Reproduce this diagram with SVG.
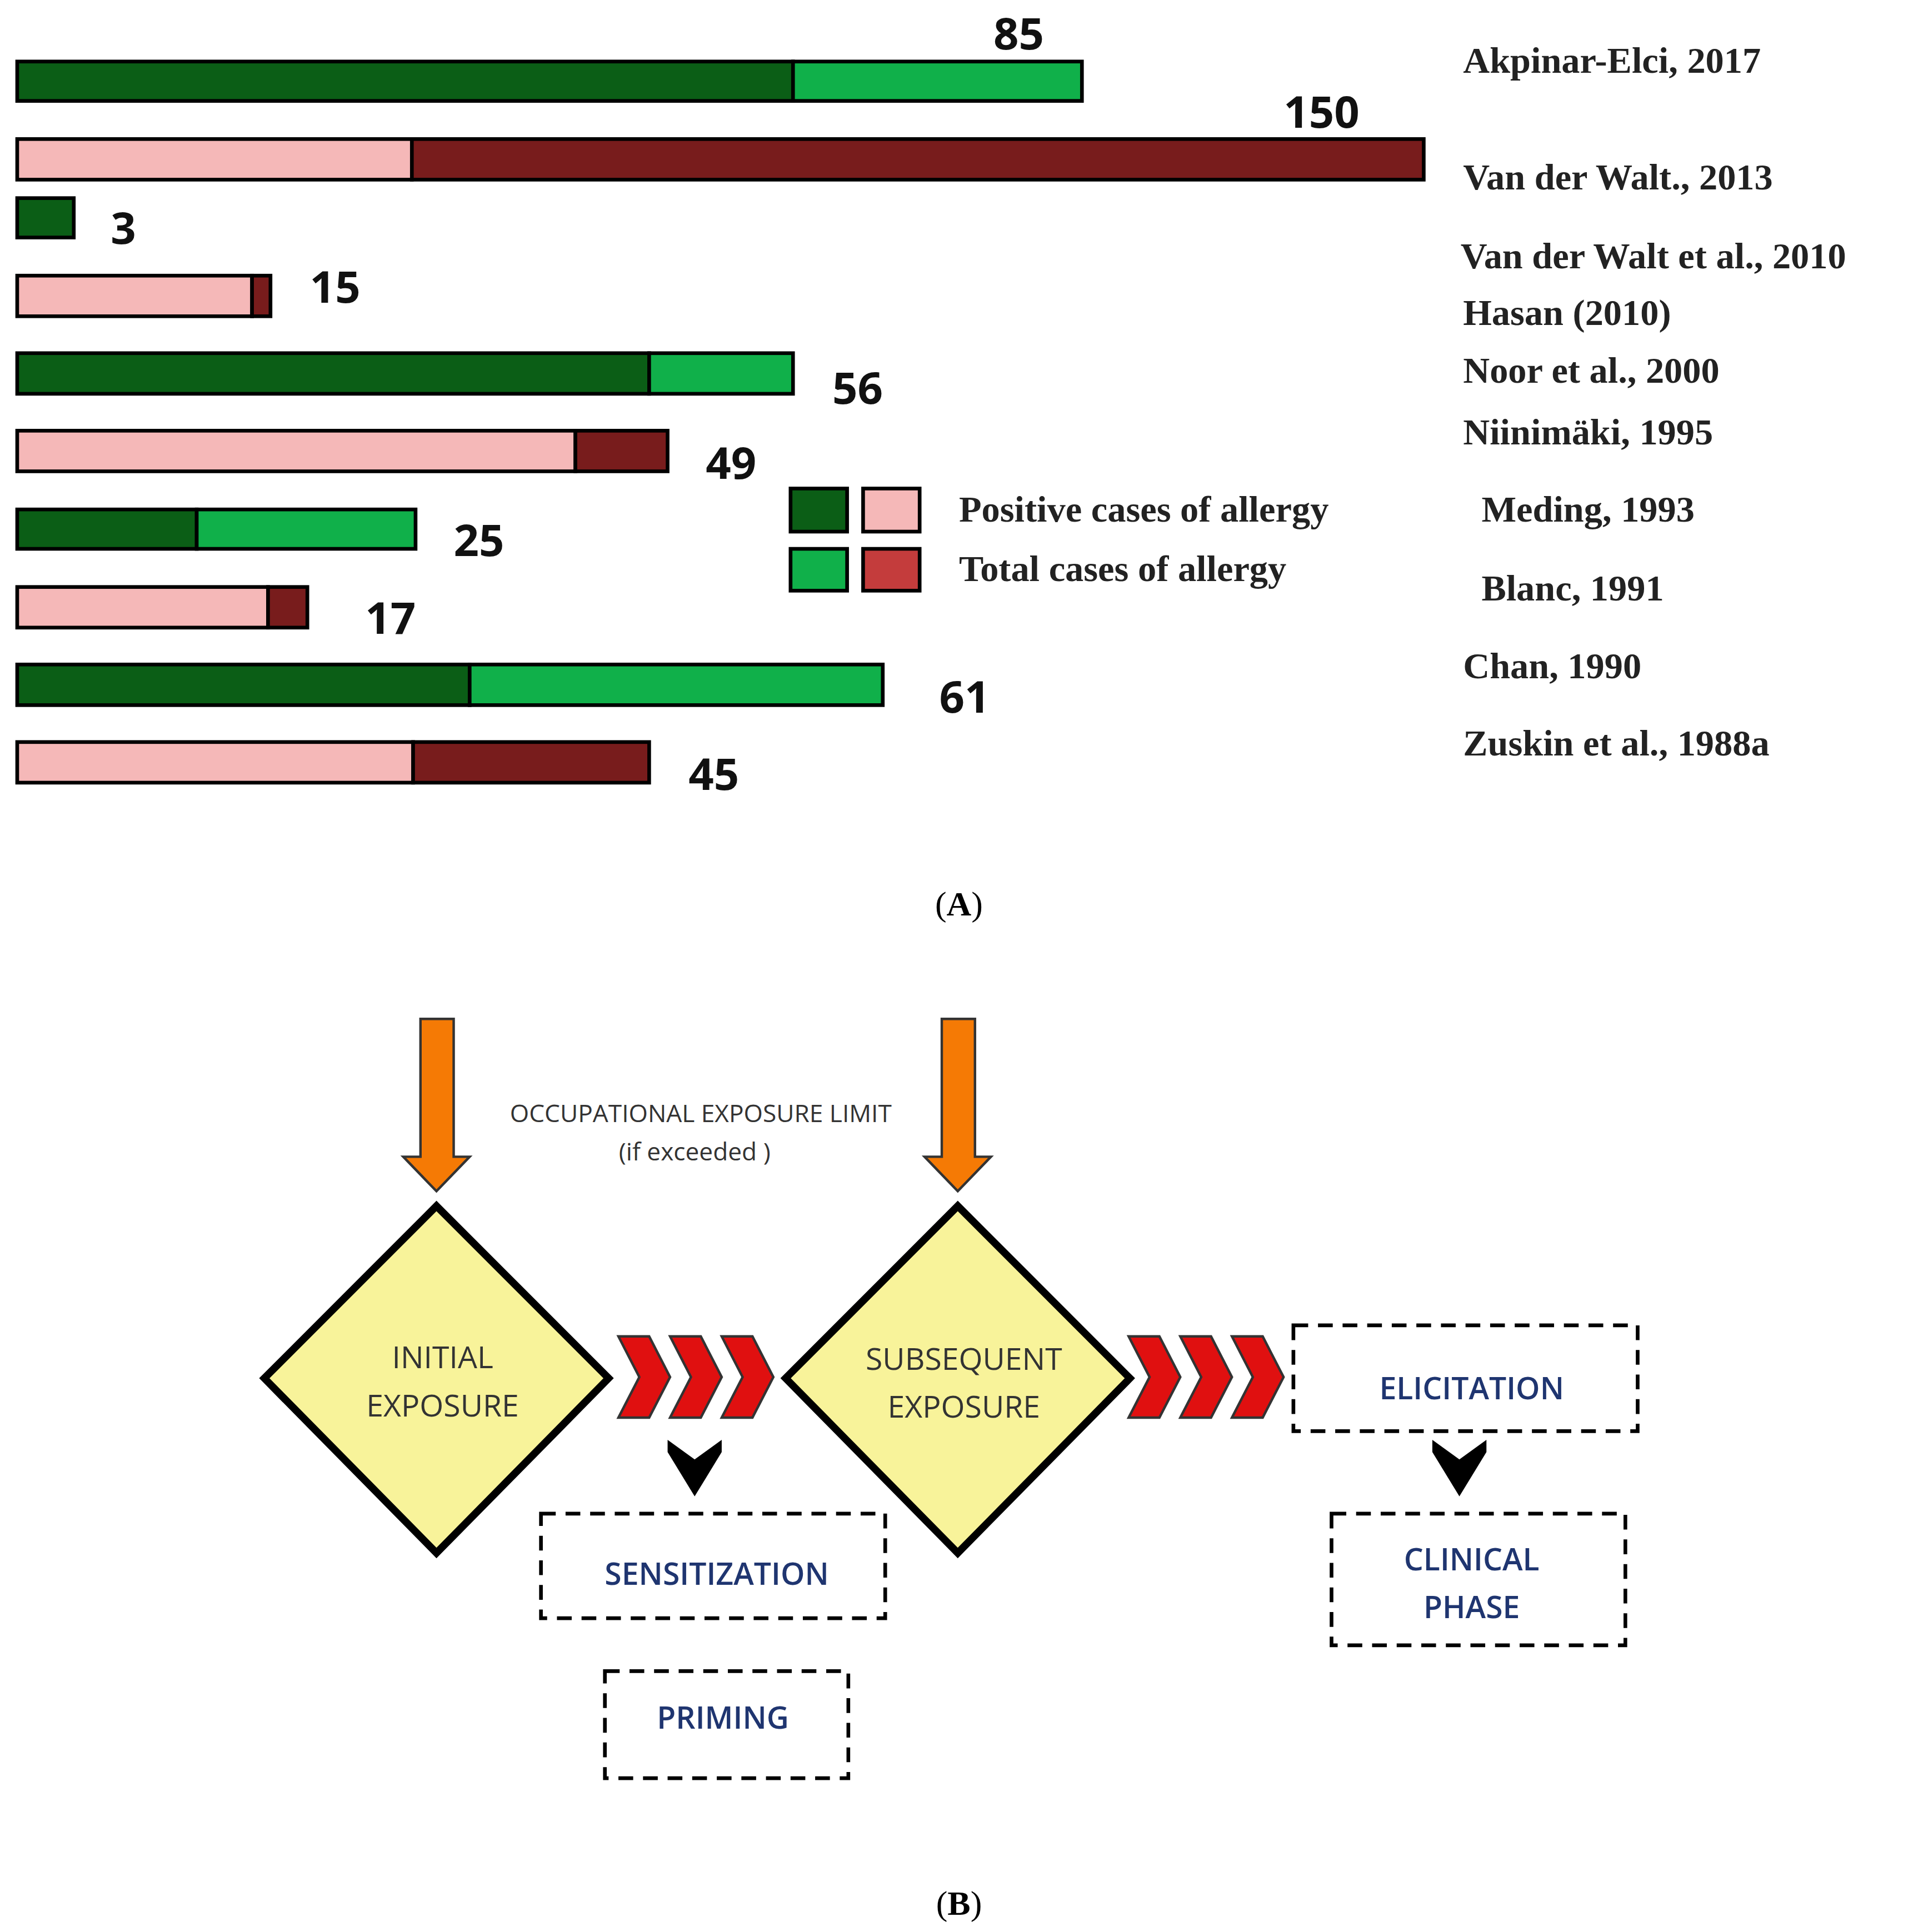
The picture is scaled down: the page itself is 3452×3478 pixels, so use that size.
<svg xmlns="http://www.w3.org/2000/svg" width="3452" height="3478" viewBox="0 0 3452 3478">
<style>
.bar{stroke:#000;stroke-width:3}
.dg{fill:#0b5e16}.lg{fill:#10b04a}.pk{fill:#f5b8b8}.dr{fill:#781c1c}.rl{fill:#c43c3c}
.num{font-family:"Open Sans",sans-serif;font-weight:bold;font-size:36px;fill:#111}
.ref{font-family:"Liberation Serif",serif;font-weight:bold;font-size:30px;fill:#222}
.cap{font-family:"Liberation Serif",serif;font-size:28px;fill:#000}
.dia{fill:#f8f39a;stroke:#000;stroke-width:6;stroke-linejoin:miter}
.dt{font-family:"Open Sans",sans-serif;font-size:25px;fill:#333;text-anchor:middle}
.bt{font-family:"Open Sans",sans-serif;font-size:25px;font-weight:600;fill:#1f3570;text-anchor:middle}
.box{fill:none;stroke:#000;stroke-width:3;stroke-dasharray:12 8}
.chev{fill:#e01010;stroke:#333;stroke-width:2}
.org{fill:#f57a05;stroke:#333;stroke-width:2}
</style>
<g transform="scale(2.2128,2.2153)">
<g id="chart">
<rect class="bar dg" x="14" y="50" width="631" height="32"/><rect class="bar lg" x="645" y="50" width="235" height="32"/>
<text class="num" x="808" y="40">85</text>
<rect class="bar pk" x="14" y="113" width="321" height="33"/><rect class="bar dr" x="335" y="113" width="823" height="33"/>
<text class="num" x="1044" y="104">150</text>
<rect class="bar dg" x="14" y="161" width="46" height="32"/>
<text class="num" x="90" y="198">3</text>
<rect class="bar pk" x="14" y="224" width="191" height="33"/><rect class="bar dr" x="205" y="224" width="15" height="33"/>
<text class="num" x="252" y="246">15</text>
<rect class="bar dg" x="14" y="287" width="514" height="33"/><rect class="bar lg" x="528" y="287" width="117" height="33"/>
<text class="num" x="677" y="328">56</text>
<rect class="bar pk" x="14" y="350" width="454" height="33"/><rect class="bar dr" x="468" y="350" width="75" height="33"/>
<text class="num" x="574" y="389">49</text>
<rect class="bar dg" x="14" y="414" width="146" height="32"/><rect class="bar lg" x="160" y="414" width="178" height="32"/>
<text class="num" x="369" y="452">25</text>
<rect class="bar pk" x="14" y="477" width="204" height="33"/><rect class="bar dr" x="218" y="477" width="32" height="33"/>
<text class="num" x="297" y="515">17</text>
<rect class="bar dg" x="14" y="540" width="368" height="33"/><rect class="bar lg" x="382" y="540" width="336" height="33"/>
<text class="num" x="764" y="579">61</text>
<rect class="bar pk" x="14" y="603" width="322" height="33"/><rect class="bar dr" x="336" y="603" width="192" height="33"/>
<text class="num" x="560" y="642">45</text>
</g>
<g id="legend">
<rect class="bar dg" x="643" y="397" width="46" height="35"/><rect class="bar pk" x="702" y="397" width="46" height="35"/>
<rect class="bar lg" x="643" y="446" width="46" height="34"/><rect class="bar rl" x="702" y="446" width="46" height="34"/>
<text class="ref" x="780" y="424">Positive cases of allergy</text>
<text class="ref" x="780" y="472">Total cases of allergy</text>
</g>
<g id="refs">
<text class="ref" x="1190" y="59">Akpinar-Elci, 2017</text>
<text class="ref" x="1190" y="154">Van der Walt., 2013</text>
<text class="ref" x="1188" y="218">Van der Walt et al., 2010</text>
<text class="ref" x="1190" y="264">Hasan (2010)</text>
<text class="ref" x="1190" y="311">Noor et al., 2000</text>
<text class="ref" x="1190" y="361">Niinimäki, 1995</text>
<text class="ref" x="1205" y="424">Meding, 1993</text>
<text class="ref" x="1205" y="488">Blanc, 1991</text>
<text class="ref" x="1190" y="551">Chan, 1990</text>
<text class="ref" x="1190" y="614">Zuskin et al., 1988a</text>
</g>
<text class="cap" x="780" y="744" text-anchor="middle">(<tspan font-weight="bold">A</tspan>)</text>
<text class="cap" x="780" y="1556" text-anchor="middle">(<tspan font-weight="bold">B</tspan>)</text>

<g id="connectors">
<polygon class="org" points="342,828 369,828 369,940 382,940 355,968 328,940 342,940"/>
<polygon class="org" points="766,828 793,828 793,940 806,940 779,968 752,940 766,940"/>
<g id="chev1">
<polygon class="chev" points="503,1086 528,1086 545,1119 528,1152 503,1152 520,1119"/>
<polygon class="chev" points="545,1086 570,1086 587,1119 570,1152 545,1152 562,1119"/>
<polygon class="chev" points="587,1086 612,1086 629,1119 612,1152 587,1152 604,1119"/>
</g>
<g id="chev2">
<polygon class="chev" points="918,1086 943,1086 960,1119 943,1152 918,1152 935,1119"/>
<polygon class="chev" points="960,1086 985,1086 1002,1119 985,1152 960,1152 977,1119"/>
<polygon class="chev" points="1002,1086 1027,1086 1044,1119 1027,1152 1002,1152 1019,1119"/>
</g>
<polygon fill="#000" points="543,1170 565,1186 587,1170 587,1180 565,1216 543,1180"/>
<polygon fill="#000" points="1165,1170 1187,1186 1209,1170 1209,1180 1187,1216 1165,1180"/>
</g>
<text class="dt" x="570" y="912" font-size="20" style="font-size:20px">OCCUPATIONAL EXPOSURE LIMIT</text>
<text class="dt" x="565" y="943" style="font-size:20px">(if exceeded )</text>
<g id="initial">
<polygon class="dia" points="355,980 495,1120 355,1262 215,1120"/>
<text class="dt" x="360" y="1112">INITIAL</text><text class="dt" x="360" y="1151">EXPOSURE</text>
</g>
<g id="subsequent">
<polygon class="dia" points="779,980 919,1120 779,1262 639,1120"/>
<text class="dt" x="784" y="1113">SUBSEQUENT</text><text class="dt" x="784" y="1152">EXPOSURE</text>
</g>
<g id="sensitization"><rect class="box" x="440" y="1230" width="280" height="85"/><text class="bt" x="583" y="1288">SENSITIZATION</text></g>
<g id="priming"><rect class="box" x="492" y="1358" width="198" height="87"/><text class="bt" x="588" y="1405">PRIMING</text></g>
<g id="elicitation"><rect class="box" x="1052" y="1077" width="280" height="86"/><text class="bt" x="1197" y="1137">ELICITATION</text></g>
<g id="clinical"><rect class="box" x="1083" y="1230" width="239" height="107"/><text class="bt" x="1197" y="1276">CLINICAL</text><text class="bt" x="1197" y="1315">PHASE</text></g>
</g>
</svg>
